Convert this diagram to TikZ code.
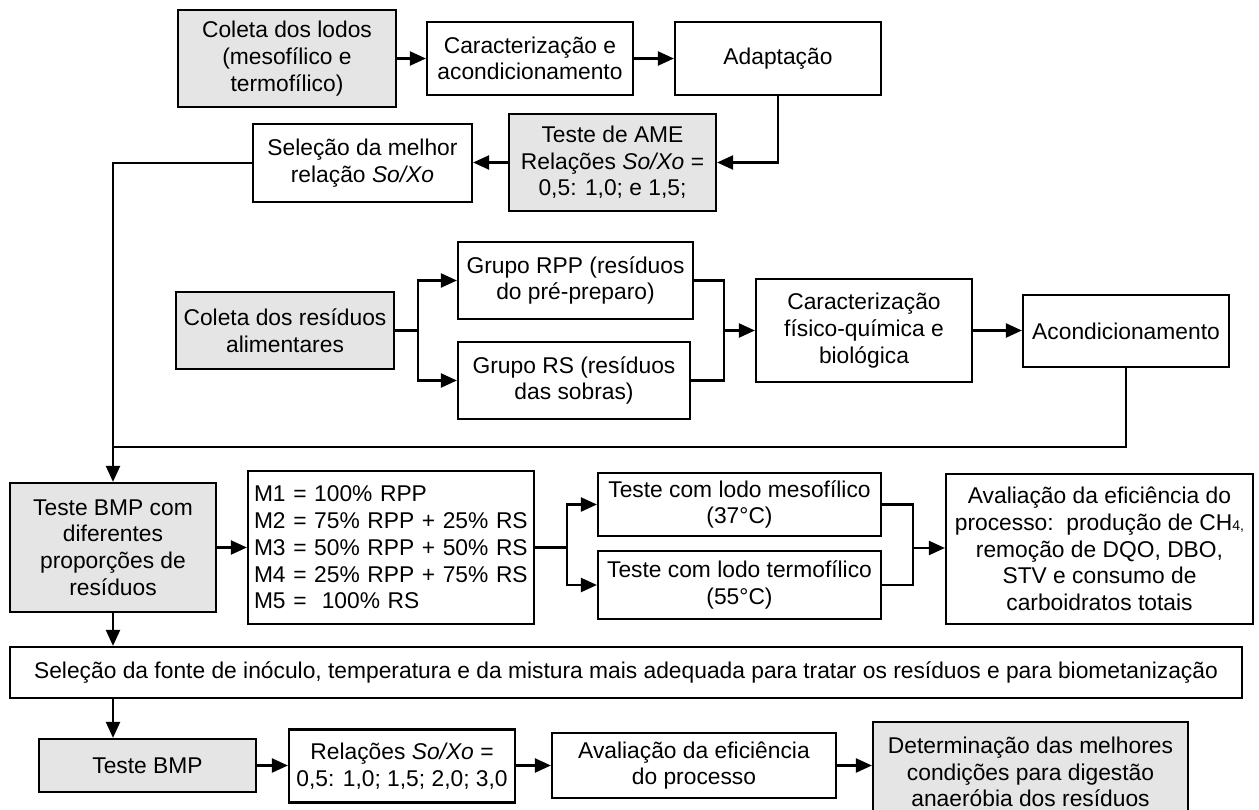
\documentclass[tikz,border=0pt]{standalone}
\usepackage{fontspec}
\setmainfont{Liberation Sans}
\usetikzlibrary{arrows.meta}

\tikzset{
  box/.style={draw, line width=2.2pt, inner sep=0pt, align=center,
    font=\fontsize{22.8}{26.7}\selectfont},
  grey/.style={fill=black!10},
  link/.style={line width=2.2pt},
  arr/.style={line width=2.2pt, -{Triangle[length=16pt,width=14pt]}},
}

\begin{document}
\begin{tikzpicture}[x=1pt, y=-1pt]
\path[use as bounding box, fill=white] (0,0) rectangle (1259,810);

% --- sludge branch -------------------------------------------------
\node[box, grey, minimum width=218, minimum height=97] (lodos) at (287,58.5)
  {Coleta dos lodos\\(mesofílico e\\termofílico)};
\node[box, minimum width=206, minimum height=73] (carac1) at (530,58.5)
  {Caracterização e\\acondicionamento};
\node[box, minimum width=206, minimum height=73] (adapt) at (778,58.5)
  {Adaptação};
\node[box, grey, minimum width=207, minimum height=97] (ame) at (612.5,162.5)
  {Teste de AME\\Relações \textit{So/Xo} =\\0,5: 1,0; e 1,5;};
\node[box, minimum width=219, minimum height=78] (selm) at (362.5,163)
  {Seleção da melhor\\relação \textit{So/Xo}};

% --- food waste branch ----------------------------------------------
\node[box, grey, minimum width=218, minimum height=77] (colres) at (285,330.5)
  {Coleta dos resíduos\\alimentares};
\node[box, minimum width=235, minimum height=77] (rpp) at (575.5,280.5)
  {Grupo RPP (resíduos\\do pré-preparo)};
\node[box, minimum width=232, minimum height=77] (rs) at (574,380.5)
  {Grupo RS (resíduos\\das sobras)};
\node[box, minimum width=216, minimum height=103] (carac2) at (864,330.5)
  {Caracterização\\físico-química e\\biológica};
\node[box, minimum width=206, minimum height=72] (acond) at (1126,331)
  {Acondicionamento};

% --- BMP with mixtures ----------------------------------------------
\node[box, grey, minimum width=206, minimum height=129] (bmp1) at (113,547.5)
  {Teste BMP com\\diferentes\\proporções de\\resíduos};
\node[box, minimum width=286, minimum height=153, text width=274pt,
      inner xsep=6pt, align=left] (mlist) at (391,547.5)
  {M1 = 100\% RPP\\M2 = 75\% RPP + 25\% RS\\M3 = 50\% RPP + 50\% RS\\M4 = 25\% RPP + 75\% RS\\M5 = \ 100\% RS};
\node[box, minimum width=283, minimum height=63] (meso) at (739.5,504.5)
  {Teste com lodo mesofílico\\(37°C)};
\node[box, minimum width=283, minimum height=68] (termo) at (739.5,585)
  {Teste com lodo termofílico\\(55°C)};
\node[box, minimum width=307, minimum height=150] (aval1) at (1099.5,549)
  {Avaliação da eficiência do\\processo:\ \ produção de CH{\fontsize{14}{14}\selectfont 4,}\\remoção de DQO, DBO,\\STV e consumo de\\carboidratos totais};

\node[box, minimum width=1232, minimum height=51] (selecao) at (626,672.5)
  {Seleção da fonte de inóculo, temperatura e da mistura mais adequada para tratar os resíduos e para biometanização};

% --- final BMP ------------------------------------------------------
\node[box, grey, minimum width=217, minimum height=53] (bmp2) at (147.5,765.5)
  {Teste BMP};
\node[box, minimum width=226, minimum height=73] (rel) at (402,766)
  {Relações \textit{So/Xo} =\\0,5: 1,0; 1,5; 2,0; 3,0};
\node[box, minimum width=284, minimum height=65] (aval2) at (694,765.5)
  {Avaliação da eficiência\\do processo};
\node[box, grey, minimum width=315, minimum height=100] (determ) at (1030.5,772)
  {Determinação das melhores\\condições para digestão\\anaeróbia dos resíduos};

% --- connectors -----------------------------------------------------
\draw[arr] (lodos.east) -- (carac1.west);
\draw[arr] (carac1.east) -- (adapt.west);
\draw[arr] (adapt.south) |- (ame.east);
\draw[arr] (ame.west) -- (ame.west -| selm.east);
\draw[arr] (selm.west) -| (bmp1.north);

\coordinate (split1) at (418,330.5);
\draw[link] (colres.east) -- (split1);
\draw[arr] (split1) |- (rpp.west);
\draw[arr] (split1) |- (rs.west);
\coordinate (join1) at (724,330.5);
\draw[link] (rpp.east) -| (join1);
\draw[link] (rs.east) -| (join1);
\draw[arr] (join1) -- (carac2.west);
\draw[arr] (carac2.east) -- (carac2.east -| acond.west);
\draw[link] (acond.south) |- (bmp1.north |- 0,447);

\draw[arr] (bmp1.east) -- (mlist.west);
\coordinate (split2) at (567,547.5);
\draw[link] (mlist.east) -- (split2);
\draw[arr] (split2) |- (meso.west);
\draw[arr] (split2) |- (termo.west);
\coordinate (join2) at (913,548);
\draw[link] (meso.east) -| (join2);
\draw[link] (termo.east) -| (join2);
\draw[arr] (join2) -- (aval1.west |- join2);

\draw[arr] (bmp1.south) -- (bmp1.south |- selecao.north);
\draw[arr] (bmp1.south |- selecao.south) -- (bmp1.south |- bmp2.north);

\draw[arr] (bmp2.east) -- (bmp2.east -| rel.west);
\draw[arr] (bmp2.east -| rel.east) -- (bmp2.east -| aval2.west);
\draw[arr] (bmp2.east -| aval2.east) -- (bmp2.east -| determ.west);
\end{tikzpicture}
\end{document}
